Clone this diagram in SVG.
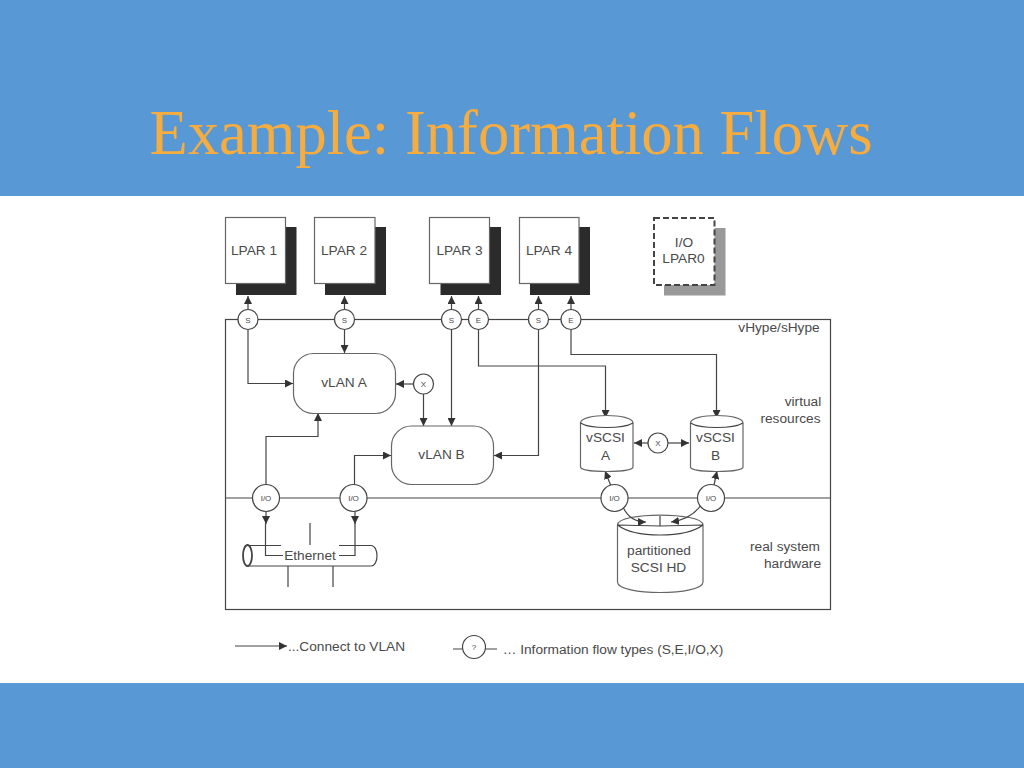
<svg xmlns="http://www.w3.org/2000/svg" width="1024" height="768" viewBox="0 0 1024 768">
<style>
text{font-family:"Liberation Sans",Arial,sans-serif;fill:#4a4a4a;text-anchor:middle}
.t{font-size:13.7px}
.s{font-size:8px}
.box{fill:#fff;stroke:#666;stroke-width:1.2}
.sh{fill:#2b2b2b}
.ln{fill:none;stroke:#444;stroke-width:1.2}
.c{fill:#fff;stroke:#444;stroke-width:1.2}
.a{fill:none;stroke:#444;stroke-width:1.2;marker-end:url(#ar)}
</style>
<defs>
<marker id="ar" markerUnits="userSpaceOnUse" markerWidth="9" markerHeight="8" refX="8" refY="4" orient="auto"><path d="M0 0L8 4L0 8Z" fill="#333"/></marker>
</defs>
<rect width="1024" height="768" fill="#5898d4"/>
<rect y="196" width="1024" height="487" fill="#fff"/>
<text id="title" x="511" y="154" style="font-family:'Liberation Serif','Times New Roman',serif;font-size:62.6px;fill:#f6ac3e">Example: Information Flows</text>

<g id="frame">
<rect x="225.500" y="319.500" width="605" height="290" fill="none" stroke="#444" stroke-width="1.2"/>
<path class="ln" d="M225.500 498H830.500"/>
</g>

<g id="hd"><path class="box" d="M617.500 525C617.500 511.700 703 511.700 703 525V582C703 596 617.500 596 617.500 582Z"/><path class="ln" d="M617.500 525C635 538.300 685 538.300 703 525M660 516V526M617.500 525L660 526L703 525"/><text class="t" x="659" y="555">partitioned</text><text class="t" x="658.500" y="572">SCSI HD</text></g>

<g id="connectors">
<path class="a" d="M248 310V296"/>
<path class="a" d="M344.500 310V296"/>
<path class="a" d="M451.500 310V296"/>
<path class="a" d="M478.500 310V296"/>
<path class="a" d="M538.500 310V296"/>
<path class="a" d="M571 310V296"/>
<path class="a" d="M248 329V383.500H293"/>
<path class="a" d="M344.500 329V353"/>
<path class="a" d="M413.500 384H396"/>
<path class="a" d="M423.500 394V426"/>
<path class="a" d="M451.500 329V426"/>
<path class="a" d="M538.500 329V455.500H494"/>
<path class="a" d="M478.500 329V366H605.500V418"/>
<path class="a" d="M571 329V354.500H716.500V418"/>
<path class="a" d="M266 484V436.500H318V413"/>
<path class="a" d="M354.500 484V455.500H391"/>
<path class="a" d="M648 443H634"/>
<path class="a" d="M668 443H689"/>
<path class="a" d="M611 486L605 471"/>
<path class="a" d="M714 485L717 471"/>
<path class="a" d="M266 511.500V524"/>
<path class="a" d="M355 511.500V524"/>
<path class="a" d="M623 507C628 518 636 522 646 522"/>
<path class="a" d="M701 505C695 514 685 520 671 522"/>
</g>

<g id="lpar1"><rect class="sh" x="236" y="227" width="60.500" height="68"/><rect class="box" x="225.500" y="217.500" width="60" height="66"/><text class="t" x="254" y="255">LPAR 1</text></g>
<g id="lpar2"><rect class="sh" x="325" y="227" width="61" height="68"/><rect class="box" x="314.500" y="217.500" width="60.500" height="66"/><text class="t" x="344" y="255">LPAR 2</text></g>
<g id="lpar3"><rect class="sh" x="440.500" y="227" width="60.500" height="68"/><rect class="box" x="429.500" y="217.500" width="60" height="66"/><text class="t" x="459.500" y="255">LPAR 3</text></g>
<g id="lpar4"><rect class="sh" x="530" y="227" width="60" height="68"/><rect class="box" x="519.500" y="217.500" width="59.500" height="66"/><text class="t" x="549" y="255">LPAR 4</text></g>
<g id="lpar0"><rect x="664" y="228" width="61.500" height="67.500" fill="#999"/><rect x="654" y="218" width="60.500" height="67" fill="#fff" stroke="#444" stroke-width="2" stroke-dasharray="6 3"/><text class="t" x="684" y="247">I/O</text><text class="t" x="683.500" y="263">LPAR0</text></g>

<g id="vlan-a"><rect class="box" x="293.500" y="353.500" width="102" height="60" rx="20"/><text class="t" x="344" y="387">vLAN A</text></g>
<g id="vlan-b"><rect class="box" x="391.500" y="426" width="102" height="58.500" rx="20"/><text class="t" x="441.500" y="459">vLAN B</text></g>

<g id="vscsi-a"><path class="box" d="M580.500 423C580.500 413 633 413 633 423V467C633 473 580.500 473 580.500 467Z"/><path class="ln" d="M580.500 423C590 429 623 429 633 423"/><text class="t" x="605.500" y="442">vSCSI</text><text class="t" x="605.500" y="460">A</text></g>
<g id="vscsi-b"><path class="box" d="M690.500 423C690.500 413 743 413 743 423V467C743 473 690.500 473 690.500 467Z"/><path class="ln" d="M690.500 423C700 429 733 429 743 423"/><text class="t" x="715.500" y="442">vSCSI</text><text class="t" x="715.500" y="460">B</text></g>

<g id="ethernet"><path class="ln" d="M281 545.500H248M339 545.500H371C379 545.500 379 566 371 566H248"/><ellipse cx="247.500" cy="555.500" rx="4.500" ry="10.500" fill="#fff" stroke="#444" stroke-width="1.800"/><path class="ln" d="M265.500 523V555.500H283M339 555.500H355V523M310 523V545M288 566V587M333 566V587"/><text class="t" x="310" y="560">Ethernet</text></g>

<g id="s1"><circle class="c" cx="248" cy="319.500" r="10"/><text class="s" x="248" y="322.500">S</text></g>
<g id="s2"><circle class="c" cx="344.500" cy="319.500" r="10"/><text class="s" x="344.500" y="322.500">S</text></g>
<g id="s3"><circle class="c" cx="451.500" cy="319.500" r="10"/><text class="s" x="451.500" y="322.500">S</text></g>
<g id="e3"><circle class="c" cx="478.500" cy="319.500" r="10"/><text class="s" x="478.500" y="322.500">E</text></g>
<g id="s4"><circle class="c" cx="538.500" cy="319.500" r="10"/><text class="s" x="538.500" y="322.500">S</text></g>
<g id="e4"><circle class="c" cx="571" cy="319.500" r="10"/><text class="s" x="571" y="322.500">E</text></g>
<g id="x-vlan"><circle class="c" cx="423.500" cy="384" r="10"/><text class="s" x="423.500" y="387">X</text></g>
<g id="x-vscsi"><circle class="c" cx="658" cy="443" r="10"/><text class="s" x="658" y="445.500">X</text></g>
<g id="io1"><circle class="c" cx="266" cy="498" r="13.500"/><text class="s" x="266" y="500.500">I/O</text></g>
<g id="io2"><circle class="c" cx="353.500" cy="498" r="13.500"/><text class="s" x="353.500" y="500.500">I/O</text></g>
<g id="io3"><circle class="c" cx="614.500" cy="498" r="13.500"/><text class="s" x="614.500" y="500.500">I/O</text></g>
<g id="io4"><circle class="c" cx="711" cy="498" r="13.500"/><text class="s" x="711" y="500.500">I/O</text></g>

<g id="labels">
<text class="t" x="779" y="332">vHype/sHype</text>
<text class="t" x="803" y="406">virtual</text>
<text class="t" x="790.500" y="423">resources</text>
<text class="t" x="785" y="551">real system</text>
<text class="t" x="792.500" y="568">hardware</text>
</g>

<g id="legend">
<path class="a" d="M235 646H287"/>
<text class="t" x="346.500" y="651">...Connect to VLAN</text>
<path class="ln" d="M453 649H497"/>
<circle class="c" cx="474" cy="647" r="11.500"/>
<text class="s" x="474" y="650">?</text>
<text class="t" x="613" y="654">… Information flow types (S,E,I/O,X)</text>
</g>
</svg>
